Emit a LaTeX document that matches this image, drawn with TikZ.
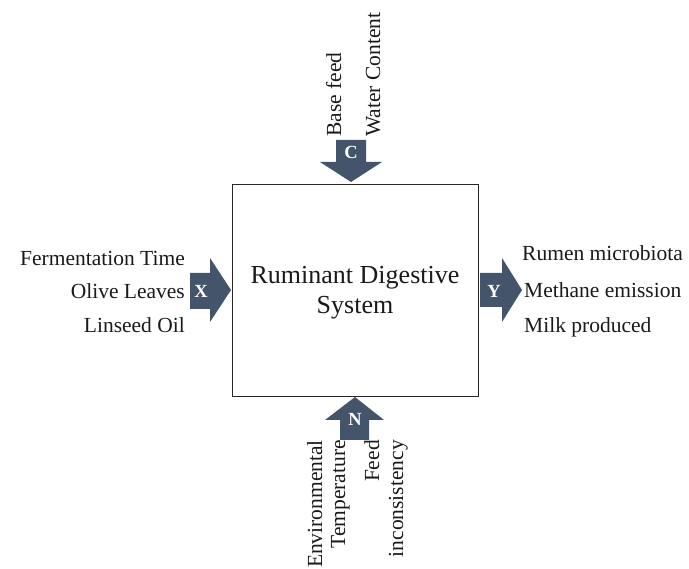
\documentclass[tikz,border=0pt]{standalone}
\usepackage{fontspec}
\setmainfont{Liberation Serif}
\definecolor{arrowfill}{HTML}{44546A}
\definecolor{textcol}{HTML}{1A1A1A}
\begin{document}
\begin{tikzpicture}[x=1pt,y=-1pt,
  lbl/.style={inner sep=0pt, text=textcol, font=\fontsize{21.5}{26}\selectfont},
  letter/.style={inner sep=0pt, text=white, font=\fontsize{18.5}{20}\selectfont\bfseries},
  blockarrow/.style={fill=arrowfill, draw=none}]
\useasboundingbox (0,0) rectangle (689,569);

% central box
\node (sys) [draw=black!85, line width=0.9pt, minimum width=246pt, minimum height=212pt,
  inner sep=0pt, align=center, text=textcol, font=\fontsize{26}{30}\selectfont]
  at (355,290) {};
\node (systext) [inner sep=0pt, align=center, text=textcol, font=\fontsize{26}{30}\selectfont]
  at (355,293) {Ruminant Digestive\\System};

% C arrow (top)
\fill[blockarrow] (336,140) -- (366,140) -- (366,162) -- (382,162) -- (351,182)
  -- (320,162) -- (336,162) -- cycle;
\node (c) [letter] at (351,152) {C};
\node (c1) [lbl, rotate=90, anchor=base west] at (341,137) {Base feed};
\node (c2) [lbl, rotate=90, anchor=base west] at (380,137) {Water Content};

% N arrow (bottom)
\fill[blockarrow] (340,440) -- (369,440) -- (369,420) -- (384,420) -- (355,397)
  -- (325,420) -- (340,420) -- cycle;
\node (n) [letter] at (355,419) {N};
\node (n1) [lbl, rotate=90, anchor=base east] at (322,440) {Environmental};
\node (n2) [lbl, rotate=90, anchor=base east] at (345,440) {Temperature};
\node (n3) [lbl, rotate=90, anchor=base east] at (379,440) {Feed};
\node (n4) [lbl, rotate=90, anchor=base east] at (403,440) {inconsistency};

% X arrow (left)
\fill[blockarrow] (190,273) -- (210,273) -- (210,258) -- (231,290) -- (210,322)
  -- (210,309) -- (190,309) -- cycle;
\node (x) [letter] at (201,291) {X};
\node (x1) [lbl, anchor=base east] at (185,266) {Fermentation Time};
\node (x2) [lbl, anchor=base east] at (185,299) {Olive Leaves};
\node (x3) [lbl, anchor=base east] at (185,333) {Linseed Oil};

% Y arrow (right)
\fill[blockarrow] (480,273) -- (502,273) -- (502,258) -- (522,290) -- (502,322)
  -- (502,307) -- (480,307) -- cycle;
\node (y) [letter] at (494,291) {Y};
\node (y1) [lbl, anchor=base west] at (522,261) {Rumen microbiota};
\node (y2) [lbl, anchor=base west] at (524,298) {Methane emission};
\node (y3) [lbl, anchor=base west] at (524,333) {Milk produced};
\end{tikzpicture}
\end{document}
